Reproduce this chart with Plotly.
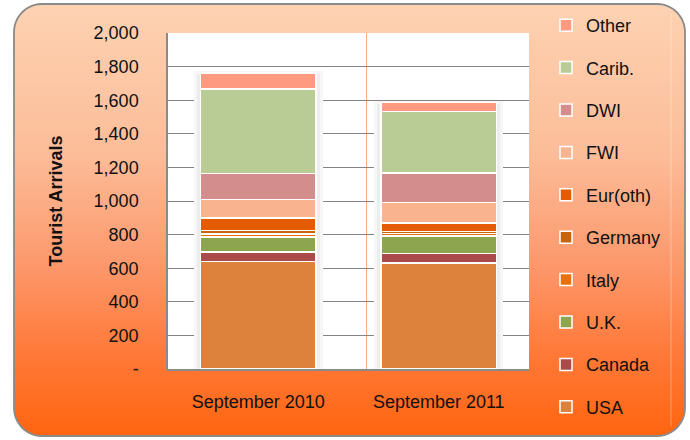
import math
import plotly.graph_objects as go

# ---------------- data ----------------
categories = ["September 2010", "September 2011"]
usa = [640, 632]
canada = [55, 55]
uk = [90, 105]
italy = [20, 15]
germany = [18, 12]
eur_oth = [75, 50]
fwi = [110, 122]
dwi = [155, 175]
carib = [505, 368]
other = [95, 52]

series_names = ["USA", "Canada", "U.K.", "Italy", "Germany", "Eur(oth)", "FWI", "DWI", "Carib.", "Other"]
series_values = [usa, canada, uk, italy, germany, eur_oth, fwi, dwi, carib, other]
series_colors = ["#dc823c", "#ab4a4a", "#8ca54e", "#e8700f", "#c8640f", "#e35c03",
                 "#f9b48f", "#d28d8c", "#b9cc95", "#fd9a80"]

ytick_vals = [0, 200, 400, 600, 800, 1000, 1200, 1400, 1600, 1800, 2000]
ytick_text = ["-", "200", "400", "600", "800", "1,000", "1,200", "1,400", "1,600", "1,800", "2,000"]

totals = [sum(v[i] for v in series_values) for i in range(len(categories))]

# ---------------- geometry ----------------
W, H = 690, 440
ML, MR, MT, MB = 168, 161, 33, 71
PW, PH = W - ML - MR, H - MT - MB


def pp(x, y):
    return (x - ML) / PW, (H - MB - y) / PH


FONT = "Liberation Sans, Arial, sans-serif"

fig = go.Figure()

# soft shadow behind the stacked bars (base subplot)
fig.add_trace(go.Bar(
    x=categories, y=totals, xaxis="x", yaxis="y",
    width=[0.70] * len(categories),
    marker=dict(color="#ededed", line=dict(color="#f7f7f7", width=3)),
    showlegend=False, hoverinfo="skip",
))

# stacked bars on overlay subplot
n_series = len(series_names)
for i, (name, vals, col) in enumerate(zip(series_names, series_values, series_colors)):
    fig.add_trace(go.Bar(
        x=categories, y=vals, name=name, xaxis="x2", yaxis="y",
        width=[0.64] * len(categories),
        marker=dict(color=col, line=dict(color="white", width=1.5)),
        legendgroup=name, legendrank=1000 + (n_series - i),
    ))

# ---------------- background (gradient rounded panel) ----------------
L, R, T, B, RAD = 14, 685, 4, 436, 28
stops = [(0.0, (253, 210, 178)), (0.35, (252, 188, 152)), (0.6, (252, 152, 108)),
         (0.8, (255, 122, 58)), (1.0, (255, 100, 15))]


def grad(t):
    for (t0, c0), (t1, c1) in zip(stops[:-1], stops[1:]):
        if t <= t1:
            f = (t - t0) / (t1 - t0) if t1 > t0 else 0
            return "rgb(%d,%d,%d)" % tuple(round(a + (b - a) * f) for a, b in zip(c0, c1))
    return "rgb(%d,%d,%d)" % stops[-1][1]


def inset(y):
    d = min(y - T, B - y)
    if d >= RAD:
        return 0.0
    d = max(d, 0)
    return RAD - math.sqrt(max(RAD ** 2 - (RAD - d) ** 2, 0))


shapes = []
step = 2.0
y = T
while y < B:
    y0, y1 = y, min(y + step + 0.6, B)
    pts = [(L + inset(y0), y0), (R - inset(y0), y0), (R - inset(y1), y1), (L + inset(y1), y1)]
    path = "M" + " L".join("%.5f,%.5f" % pp(px, py) for px, py in pts) + " Z"
    shapes.append(dict(type="path", path=path, xref="paper", yref="paper",
                       fillcolor=grad((y - T) / (B - T)), line=dict(width=0), layer="below"))
    y += step

# border outline
border_pts = []
n = 12
for i in range(n + 1):  # top-left
    a = math.pi + (math.pi / 2) * i / n
    border_pts.append((L + RAD + RAD * math.cos(a), T + RAD + RAD * math.sin(a)))
for i in range(n + 1):  # top-right
    a = 1.5 * math.pi + (math.pi / 2) * i / n
    border_pts.append((R - RAD + RAD * math.cos(a), T + RAD + RAD * math.sin(a)))
for i in range(n + 1):  # bottom-right
    a = (math.pi / 2) * i / n
    border_pts.append((R - RAD + RAD * math.cos(a), B - RAD + RAD * math.sin(a)))
for i in range(n + 1):  # bottom-left
    a = math.pi / 2 + (math.pi / 2) * i / n
    border_pts.append((L + RAD + RAD * math.cos(a), B - RAD + RAD * math.sin(a)))
bpath = "M" + " L".join("%.5f,%.5f" % pp(px, py) for px, py in border_pts) + " Z"
shapes.append(dict(type="path", path=bpath, xref="paper", yref="paper",
                   line=dict(color="#8a8a8a", width=1.8), layer="below"))

# subtle bevel line near right edge
bx0, by0 = pp(671, 14)
bx1, by1 = pp(671, 426)
shapes.append(dict(type="line", xref="paper", yref="paper", x0=bx0, x1=bx1, y0=by0, y1=by1,
                   line=dict(color="rgba(255,255,255,0.35)", width=1), layer="below"))

# white plot area
shapes.append(dict(type="rect", xref="paper", yref="paper", x0=0, x1=1, y0=0, y1=1,
                   fillcolor="white", line=dict(width=0), layer="below"))

# light category divider
shapes.append(dict(type="line", xref="x", yref="paper", x0=0.6, x1=0.6, y0=0, y1=1,
                   line=dict(color="#f5ab85", width=1), layer="below"))

fig.update_layout(
    width=W, height=H,
    margin=dict(l=ML, r=MR, t=MT, b=MB, autoexpand=False),
    paper_bgcolor="white", plot_bgcolor="white",
    barmode="stack",
    font=dict(family=FONT, size=18, color="#111111"),
    shapes=shapes,
    showlegend=True,
    legend=dict(xref="container", yref="container",
                x=546 / W, y=1 - 7 / H, xanchor="left", yanchor="top",
                traceorder="grouped", tracegroupgap=16, maxheight=1.0,
                bgcolor="rgba(0,0,0,0)", font=dict(family=FONT, size=18, color="#111111"),
                itemclick=False, itemdoubleclick=False),
    xaxis=dict(type="category", categoryorder="array", categoryarray=categories,
               range=[-0.5, len(categories) - 0.5],
               showline=True, linecolor="#8a8a8a", linewidth=1.5,
               showgrid=False, ticks="", ticklabelstandoff=16, fixedrange=True),
    xaxis2=dict(type="category", categoryorder="array", categoryarray=categories,
                range=[-0.5, len(categories) - 0.5], overlaying="x", visible=False,
                fixedrange=True),
    yaxis=dict(range=[0, 2000], tickvals=ytick_vals, ticktext=ytick_text,
               showgrid=True, gridcolor="#858585", gridwidth=1.2,
               showline=True, linecolor="#8a8a8a", linewidth=1.5,
               ticks="", ticklabelstandoff=24, zeroline=False, fixedrange=True,
               title=dict(text="<b>Tourist Arrivals</b>", standoff=26,
                          font=dict(family=FONT, size=18, color="#111111"))),
)

fig.write_html("out.html", config={"displayModeBar": False},
               post_script="document.body.style.margin='0px';")
